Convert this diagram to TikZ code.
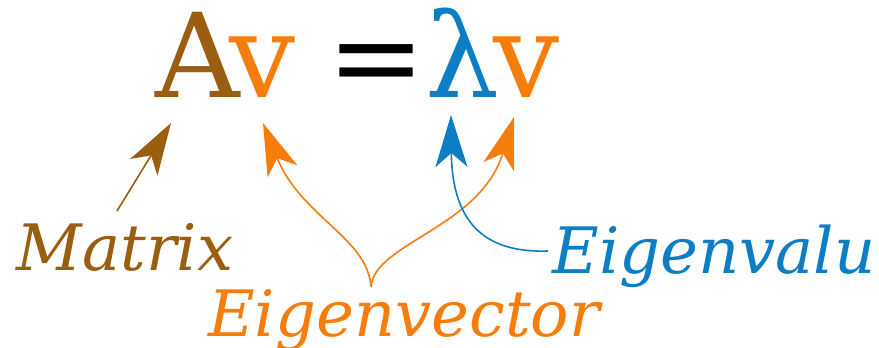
\documentclass[tikz,border=0pt]{standalone}
\usepackage{fontspec}
\setmainfont{DejaVu Serif}
\usetikzlibrary{arrows.meta}
\definecolor{mbrown}{RGB}{153,94,16}
\definecolor{morange}{RGB}{245,125,12}
\definecolor{mblue}{RGB}{14,126,196}
\tikzset{
  bigglyph/.style={inner sep=0pt, anchor=base, font=\fontsize{117}{120}\selectfont},
  lbl/.style={inner sep=0pt, anchor=base, font=\fontsize{64}{70}\selectfont\itshape},
  arr/.style={line width=1.6pt, -{Stealth[length=52pt,width=32pt,inset=14pt]}}
}
\begin{document}
\begin{tikzpicture}[x=1pt,y=1pt]
\useasboundingbox (0,0) rectangle (879,348);
% equation
\node[bigglyph, text=mbrown] (A) at (198,250) {A};
\node[bigglyph, text=morange] (v1) at (263,250) {v};
\node[bigglyph, text=black] (eq) at (376.5,250) {=};
\node[bigglyph, text=mblue] (lam) at (463,250) {λ};
\node[bigglyph, text=morange] (v2) at (527,250) {v};
% labels
\node[lbl, text=mbrown] (mat) at (125,77) {Matrix};
\node[lbl, text=morange] (evec) at (404,11) {Eigenvector};
\node[lbl, text=mblue] (eval) at (714,74) {Eigenvalu};
% arrow ends
\coordinate (mtail) at (117,137);
\coordinate (mtip) at (171,225);
\coordinate (join) at (371,61);
\coordinate (vtipa) at (263,225);
\coordinate (vtipb) at (514,231);
\coordinate (ltail) at (548,97);
\coordinate (ltip) at (451,233);
% connectors
\draw[arr, mbrown] (mtail) -- (mtip);
\draw[arr, morange] (join) .. controls (368,110) and (301,131) .. (vtipa);
\draw[arr, morange] (join) .. controls (374,105) and (480,120) .. (vtipb);
\draw[arr, mblue] (ltail) .. controls (490,95) and (452,120) .. (ltip);
\end{tikzpicture}
\end{document}
